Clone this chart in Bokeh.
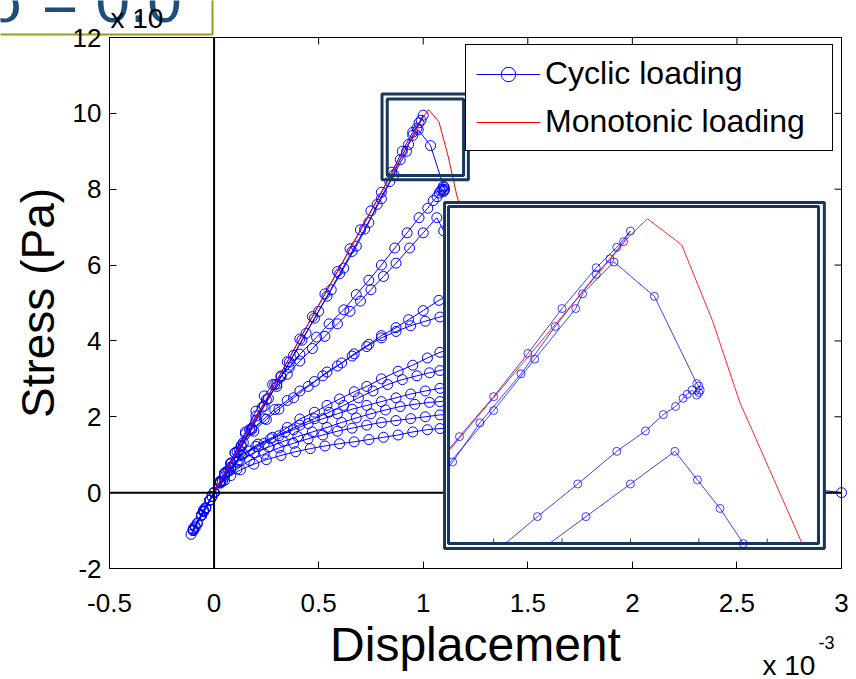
import numpy as np
from bokeh.plotting import figure
from bokeh.models import Range1d, FixedTicker, Legend, LegendItem
from bokeh.core.properties import value
from bokeh.embed import file_html
from bokeh.resources import INLINE

FONT = "Liberation Sans"

# ---------------- data ----------------
x_ticks = [-0.5, 0, 0.5, 1, 1.5, 2, 2.5, 3]
x_tick_labels = ["-0.5", "0", "0.5", "1", "1.5", "2", "2.5", "3"]
y_ticks = [-2, 0, 2, 4, 6, 8, 10, 12]
y_tick_labels = ["-2", "0", "2", "4", "6", "8", "10", "12"]
inset_ticks = [0.8, 0.9, 1.0, 1.1, 1.2]

mono_x = [0, 0.25, 0.5, 0.75, 1.0, 1.025, 1.075, 1.12, 1.16, 1.21, 1.26, 1.35, 1.5, 1.7, 1.9, 2.2, 2.6, 3.0]
mono_y = [0, 2.47, 4.94, 7.41, 9.9, 10.1, 9.78, 8.85, 7.85, 6.9, 5.95, 4.3, 2.5, 1.2, 0.45, 0.08, 0, 0]

# cyclic loading path, branch by branch
load1_x = [0, 0.05, 0.11, 0.17, 0.23, 0.29, 0.35, 0.41, 0.47, 0.53, 0.59, 0.65, 0.70, 0.75, 0.80, 0.85, 0.90, 0.95, 0.98, 1.0]
load1_y = [0, 0.48, 1.07, 1.66, 2.25, 2.85, 3.45, 4.05, 4.64, 5.24, 5.83, 6.43, 6.93, 7.43, 7.92, 8.45, 9.0, 9.5, 9.75, 9.95]
unload1_x = [0.99, 0.97, 0.95, 0.89, 0.84, 0.78, 0.74, 0.68, 0.62, 0.56, 0.50, 0.44, 0.38, 0.32, 0.26, 0.20, 0.14, 0.08, 0.03, -0.02, -0.06, -0.10, -0.11]
unload1_y = [9.82, 9.61, 9.42, 8.78, 8.2, 7.6, 7.12, 6.5, 5.92, 5.35, 4.78, 4.2, 3.62, 3.05, 2.48, 1.9, 1.32, 0.76, 0.27, -0.2, -0.6, -1.0, -1.1]
reload1_x = [-0.09, -0.05, 0.0, 0.06, 0.12, 0.18, 0.24, 0.30, 0.36, 0.42, 0.48, 0.54, 0.60, 0.66, 0.72, 0.80, 0.86, 0.92, 0.93, 0.976]
reload1_y = [-0.92, -0.5, 0.0, 0.56, 1.13, 1.7, 2.28, 2.86, 3.44, 4.02, 4.6, 5.18, 5.77, 6.36, 6.95, 7.75, 8.38, 9.0, 9.18, 9.57]
soft1_x = [1.035, 1.097, 1.1, 1.102, 1.1, 1.097]
soft1_y = [9.15, 8.08, 8.05, 8.0, 7.97, 7.94]
unload2_x = [1.09, 1.083, 1.077, 1.066, 1.048, 1.022, 0.98, 0.923, 0.864, 0.80, 0.74, 0.68, 0.62, 0.55, 0.49, 0.41, 0.36, 0.32, 0.28, 0.24, 0.20, 0.15, 0.10, 0.05, 0.0, -0.05, -0.10]
unload2_y = [8.0, 7.95, 7.9, 7.8, 7.7, 7.5, 7.25, 6.85, 6.45, 6.0, 5.6, 5.22, 4.82, 4.45, 4.1, 3.65, 3.3, 3.08, 2.85, 2.55, 2.15, 1.6, 1.05, 0.5, 0.0, -0.5, -0.98]
reload2_x = [-0.10, -0.05, 0.0, 0.05, 0.10, 0.15, 0.20, 0.25, 0.30, 0.35, 0.41, 0.47, 0.53, 0.59, 0.65, 0.70, 0.75, 0.81, 0.87, 0.935, 1.0, 1.065]
reload2_y = [-0.95, -0.45, 0.0, 0.52, 1.05, 1.55, 2.02, 2.45, 2.8, 3.12, 3.47, 3.8, 4.12, 4.45, 4.78, 5.05, 5.35, 5.7, 6.05, 6.45, 6.85, 7.25]
soft2_x = [1.098, 1.131, 1.165, 1.195, 1.22]
soft2_y = [6.9, 6.55, 6.12, 5.8, 5.55]
unload3_x = [1.15, 1.075, 1.0, 0.93, 0.87, 0.80, 0.74, 0.67, 0.61, 0.54, 0.48, 0.41, 0.35, 0.29, 0.24, 0.18, 0.13, 0.08, 0.03, -0.02, -0.06, -0.10]
unload3_y = [5.3, 5.07, 4.8, 4.56, 4.35, 4.14, 3.91, 3.66, 3.42, 3.18, 2.93, 2.68, 2.43, 2.19, 1.95, 1.66, 1.25, 0.78, 0.3, -0.2, -0.6, -1.0]
reload3_x = [-0.06, -0.02, 0.03, 0.08, 0.13, 0.19, 0.25, 0.31, 0.38, 0.45, 0.52, 0.59, 0.66, 0.73, 0.80, 0.87, 0.94, 1.01, 1.08, 1.16, 1.3]
reload3_y = [-0.6, -0.2, 0.3, 0.78, 1.22, 1.62, 1.93, 2.2, 2.5, 2.8, 3.08, 3.34, 3.6, 3.85, 4.08, 4.25, 4.4, 4.52, 4.63, 4.8, 5.0]
soft3_x = [1.4, 1.5]
soft3_y = [4.75, 4.45]
unload4_x = [1.35, 1.2, 1.08, 1.02, 0.95, 0.88, 0.80, 0.73, 0.67, 0.60, 0.54, 0.48, 0.41, 0.35, 0.28, 0.21, 0.14, 0.08, 0.03, -0.02, -0.06, -0.09]
unload4_y = [4.1, 3.88, 3.70, 3.55, 3.36, 3.2, 3.0, 2.8, 2.66, 2.47, 2.3, 2.12, 1.94, 1.72, 1.46, 1.28, 1.02, 0.65, 0.25, -0.2, -0.58, -0.88]
reload4_x = [-0.05, -0.01, 0.03, 0.08, 0.13, 0.2, 0.27, 0.34, 0.41, 0.48, 0.55, 0.62, 0.69, 0.76, 0.83, 0.90, 0.97, 1.03, 1.08, 1.2, 1.4, 1.6]
reload4_y = [-0.48, -0.1, 0.28, 0.68, 0.98, 1.22, 1.42, 1.6, 1.78, 1.95, 2.12, 2.3, 2.5, 2.68, 2.85, 2.98, 3.08, 3.16, 3.22, 3.4, 3.6, 3.7]
soft4_x = [1.7, 1.8]
soft4_y = [3.5, 3.2]
unload5_x = [1.6, 1.4, 1.2, 1.08, 1.01, 0.94, 0.87, 0.80, 0.73, 0.66, 0.59, 0.52, 0.45, 0.38, 0.31, 0.24, 0.17, 0.11, 0.05, 0.0, -0.04, -0.08]
unload5_y = [3.05, 2.95, 2.85, 2.75, 2.68, 2.6, 2.5, 2.4, 2.3, 2.2, 2.08, 1.95, 1.82, 1.66, 1.5, 1.3, 1.1, 0.8, 0.42, 0.0, -0.4, -0.82]
reload5_x = [-0.05, -0.01, 0.03, 0.07, 0.12, 0.19, 0.26, 0.33, 0.40, 0.47, 0.54, 0.61, 0.68, 0.75, 0.82, 0.89, 0.96, 1.03, 1.08, 1.3, 1.6, 2.0]
reload5_y = [-0.5, -0.1, 0.3, 0.58, 0.85, 1.05, 1.2, 1.35, 1.48, 1.6, 1.72, 1.85, 1.97, 2.08, 2.18, 2.27, 2.33, 2.38, 2.4, 2.6, 2.75, 2.8]
soft5_x = [2.1, 2.2]
soft5_y = [2.5, 2.2]
unload6_x = [2.0, 1.7, 1.4, 1.08, 1.01, 0.94, 0.87, 0.80, 0.73, 0.66, 0.59, 0.52, 0.45, 0.38, 0.31, 0.24, 0.17, 0.11, 0.05, 0.0, -0.04, -0.08]
unload6_y = [2.15, 2.1, 2.08, 2.05, 2.0, 1.95, 1.9, 1.85, 1.78, 1.7, 1.62, 1.52, 1.42, 1.3, 1.18, 1.02, 0.85, 0.62, 0.32, 0.0, -0.4, -0.8]
reload6_x = [-0.04, 0.0, 0.04, 0.08, 0.126, 0.19, 0.25, 0.32, 0.39, 0.46, 0.53, 0.60, 0.67, 0.74, 0.81, 0.88, 0.95, 1.02, 1.08, 1.3, 1.7, 2.3]
reload6_y = [-0.42, 0.0, 0.3, 0.45, 0.6, 0.75, 0.87, 0.98, 1.08, 1.16, 1.23, 1.29, 1.34, 1.4, 1.46, 1.52, 1.6, 1.66, 1.69, 1.75, 1.75, 1.6]
soft6_x = [2.5, 2.7, 2.85, 3.0]
soft6_y = [1.0, 0.4, 0.1, 0.0]

branches_x = [load1_x, unload1_x, reload1_x, soft1_x, unload2_x, reload2_x, soft2_x, unload3_x, reload3_x,
              soft3_x, unload4_x, reload4_x, soft4_x, unload5_x, reload5_x, soft5_x, unload6_x, reload6_x, soft6_x]
branches_y = [load1_y, unload1_y, reload1_y, soft1_y, unload2_y, reload2_y, soft2_y, unload3_y, reload3_y,
              soft3_y, unload4_y, reload4_y, soft4_y, unload5_y, reload5_y, soft5_y, unload6_y, reload6_y, soft6_y]
cyc_x = [v for b in branches_x for v in b]
cyc_y = [v for b in branches_y for v in b]

# texts around the plot
title_text = "σ = 0.0"
x_label = "Displacement"
y_label = "Stress (Pa)"
multiplier_base = "x 10"
x_exponent = "-3"
legend_labels = ["Cyclic loading", "Monotonic loading"]

# ---------------- layout constants ----------------
W, H = 856, 679
FRAME_L, FRAME_R, FRAME_T, FRAME_B = 109, 841, 37, 568     # plot box in page pixels
XR = (-0.5, 3.0)
YR = (-2.0, 12.0)
PPX = (FRAME_R - FRAME_L) / (XR[1] - XR[0])
PPY = (FRAME_B - FRAME_T) / (YR[1] - YR[0])
FULL_XR = (XR[0] - FRAME_L / PPX, XR[1] + (W - FRAME_R) / PPX)
FULL_YR = (YR[0] - (H - FRAME_B) / PPY, YR[1] + FRAME_T / PPY)
BASE_FIX = 0.44   # renderer puts the given y this fraction of the font size above the baseline


def x_px(px):   # page pixel column -> data x
    return XR[0] + (px - FRAME_L) / PPX


def y_px(py):   # page pixel row -> data y
    return YR[1] - (py - FRAME_T) / PPY


def y_base(py, size):   # data y that puts a text baseline on page row py
    return y_px(py - BASE_FIX * size)


NAVY = "#17375E"
BLUE = "#0000FF"
RED = "#FF0000"
OLIVE = "#9C9A1C"
ZOOM_OUTER = (0.803, 1.216, 8.25, 10.51)    # left, right, bottom, top (data coords)
ZOOM_INNER = (0.828, 1.193, 8.36, 10.38)
INSET_OUTER = (1.102, 2.918, -1.474, 7.648)
INSET_INNER = (1.121, 2.890, -1.342, 7.543)
INSET_VIEW = (0.734, 1.275, 6.12, 10.25)     # region of the data shown in the inset


def to_inset(xs, ys):
    L, R, B, T = INSET_INNER
    vx0, vx1, vy0, vy1 = INSET_VIEW
    xs = np.asarray(xs, float)
    ys = np.asarray(ys, float)
    return (L + (xs - vx0) / (vx1 - vx0) * (R - L)).tolist(), (B + (ys - vy0) / (vy1 - vy0) * (T - B)).tolist()


def clip_polyline(xs, ys, box):
    x0, x1, y0, y1 = box
    segs = []
    cx, cy = [], []
    for i in range(len(xs) - 1):
        ax, ay, bx, by = xs[i], ys[i], xs[i + 1], ys[i + 1]
        dx, dy = bx - ax, by - ay
        t0, t1 = 0.0, 1.0
        ok = True
        for pp, qq in ((-dx, ax - x0), (dx, x1 - ax), (-dy, ay - y0), (dy, y1 - ay)):
            if pp == 0:
                if qq < 0:
                    ok = False
                    break
            else:
                r = qq / pp
                if pp < 0:
                    if r > t1:
                        ok = False
                        break
                    t0 = max(t0, r)
                else:
                    if r < t0:
                        ok = False
                        break
                    t1 = min(t1, r)
        if not ok:
            if cx:
                segs.append((cx, cy))
                cx, cy = [], []
            continue
        sx, sy = ax + t0 * dx, ay + t0 * dy
        ex, ey = ax + t1 * dx, ay + t1 * dy
        if cx and (abs(cx[-1] - sx) > 1e-12 or abs(cy[-1] - sy) > 1e-12):
            segs.append((cx, cy))
            cx, cy = [], []
        if not cx:
            cx, cy = [sx], [sy]
        cx.append(ex)
        cy.append(ey)
        if t1 < 1.0:
            segs.append((cx, cy))
            cx, cy = [], []
    if cx:
        segs.append((cx, cy))
    out_x, out_y = [], []
    for sx_, sy_ in segs:
        mx, my = to_inset(sx_, sy_)
        out_x.append(mx)
        out_y.append(my)
    return out_x, out_y


# ---------------- figure: frame is the whole canvas, axes fixed on the plot box ----------------
p = figure(width=W, height=H, x_range=Range1d(*FULL_XR), y_range=Range1d(*FULL_YR),
           output_backend="svg", toolbar_location=None,
           min_border=0, min_border_left=0, min_border_right=0, min_border_top=0, min_border_bottom=0)
p.xgrid.visible = False
p.ygrid.visible = False
p.outline_line_color = None
p.background_fill_color = "white"
p.border_fill_color = "white"

xa = p.xaxis[0]
ya = p.yaxis[0]
xa.fixed_location = YR[0]
xa.bounds = XR
ya.fixed_location = XR[0]
ya.bounds = YR
for ax, ticks, labels in ((xa, x_ticks, x_tick_labels), (ya, y_ticks, y_tick_labels)):
    ax.ticker = FixedTicker(ticks=ticks)
    ax.major_label_overrides = {t: l for t, l in zip(ticks, labels)}
    ax.major_tick_in = 7
    ax.major_tick_out = 0
    ax.minor_tick_line_color = None
    ax.axis_line_color = "black"
    ax.major_tick_line_color = "black"
    ax.major_label_text_font = FONT
    ax.major_label_text_font_size = "26px"
    ax.major_label_text_color = "black"
    ax.axis_label_text_font = FONT
    ax.axis_label_text_font_style = "normal"
    ax.axis_label_text_color = "black"

xa.axis_label = x_label
ya.axis_label = y_label
xa.axis_label_text_font_size = "48px"
ya.axis_label_text_font_size = "46px"
xa.major_label_standoff = 25
xa.axis_label_standoff = 3
ya.major_label_standoff = 8
ya.axis_label_standoff = 6

# plot box and inward ticks on top / right (box on)
p.quad(left=XR[0], right=XR[1], bottom=YR[0], top=YR[1], fill_color=None, line_color="black", line_width=1)
tick_dy = 7 / PPY
tick_dx = 7 / PPX
p.segment(x0=x_ticks, y0=[YR[1]] * len(x_ticks), x1=x_ticks, y1=[YR[1] - tick_dy] * len(x_ticks),
          line_color="black", line_width=1)
p.segment(x0=[XR[1]] * len(y_ticks), y0=y_ticks, x1=[XR[1] - tick_dx] * len(y_ticks), y1=y_ticks,
          line_color="black", line_width=1)

# main data
cyc_line = p.line(cyc_x, cyc_y, line_color=BLUE, line_width=1)
cyc_pts = p.scatter(cyc_x, cyc_y, marker="circle", size=10, fill_color=None, line_color=BLUE, line_width=1)
mono_line = p.line(mono_x, mono_y, line_color=RED, line_width=1)

# zero axes
p.line([XR[0], XR[1]], [0, 0], line_color="black", line_width=2)
p.line([0, 0], [YR[0], YR[1]], line_color="black", line_width=2)

# zoom indicator box
for (l, r, b, t) in (ZOOM_OUTER, ZOOM_INNER):
    p.quad(left=l, right=r, bottom=b, top=t, fill_color=None, line_color=NAVY, line_width=3)

# inset
l, r, b, t = INSET_OUTER
p.quad(left=l, right=r, bottom=b, top=t, fill_color="white", line_color=NAVY, line_width=3)
l, r, b, t = INSET_INNER
p.quad(left=l, right=r, bottom=b, top=t, fill_color="white", line_color=NAVY, line_width=3)

ix, iy = clip_polyline(cyc_x, cyc_y, INSET_VIEW)
p.multi_line(ix, iy, line_color=BLUE, line_width=1, line_alpha=0.75)
vx0, vx1, vy0, vy1 = INSET_VIEW
inside = [(x, y) for x, y in zip(cyc_x, cyc_y) if vx0 <= x <= vx1 and vy0 <= y <= vy1]
px_, py_ = to_inset([q[0] for q in inside], [q[1] for q in inside])
p.scatter(px_, py_, marker="circle", size=8, fill_color=None, line_color=BLUE, line_alpha=0.75, line_width=1)
rx, ry = clip_polyline(mono_x, mono_y, INSET_VIEW)
p.multi_line(rx, ry, line_color=RED, line_width=1, line_alpha=0.85)

tx, _ = to_inset(inset_ticks, [vy0] * len(inset_ticks))
b_in = INSET_INNER[2]
p.segment(x0=tx, y0=[b_in] * len(tx), x1=tx, y1=[b_in + 5 / PPY] * len(tx), line_color="#333333", line_width=1)

# title box (cut by the top-left corner of the page) and multipliers
p.line([x_px(-5), x_px(212), x_px(212)], [y_px(34), y_px(34), y_px(-5)], line_color=OLIVE, line_width=2)
p.text(x=[x_px(-14)], y=[y_base(27, 62)], text=[title_text], text_font=value(FONT), text_font_size=value("62px"),
       text_color="#1F4E79", text_baseline="alphabetic", text_align="left")
p.text(x=[x_px(110)], y=[y_base(30, 28)], text=[multiplier_base], text_font=value(FONT), text_font_size=value("28px"),
       text_color="black", text_baseline="alphabetic", text_align="left")
p.text(x=[x_px(762)], y=[y_base(677, 28)], text=[multiplier_base], text_font=value(FONT), text_font_size=value("28px"),
       text_color="black", text_baseline="alphabetic", text_align="left")
p.text(x=[x_px(818)], y=[y_base(650, 18)], text=[x_exponent], text_font=value(FONT), text_font_size=value("18px"),
       text_color="black", text_baseline="alphabetic", text_align="left")

# legend
legend = Legend(items=[LegendItem(label=legend_labels[0], renderers=[cyc_line, cyc_pts]),
                       LegendItem(label=legend_labels[1], renderers=[mono_line])],
                location=(465, H - 151), orientation="vertical",
                border_line_color="black", border_line_width=1, border_line_alpha=1,
                background_fill_color="white", background_fill_alpha=1,
                padding=10, spacing=11, margin=0,
                label_text_font=FONT, label_text_font_size="32px", label_text_color="black",
                glyph_width=64, glyph_height=36, label_height=36, label_standoff=5, label_width=277)
p.add_layout(legend)

open("out.html", "w").write(file_html(p, INLINE))
